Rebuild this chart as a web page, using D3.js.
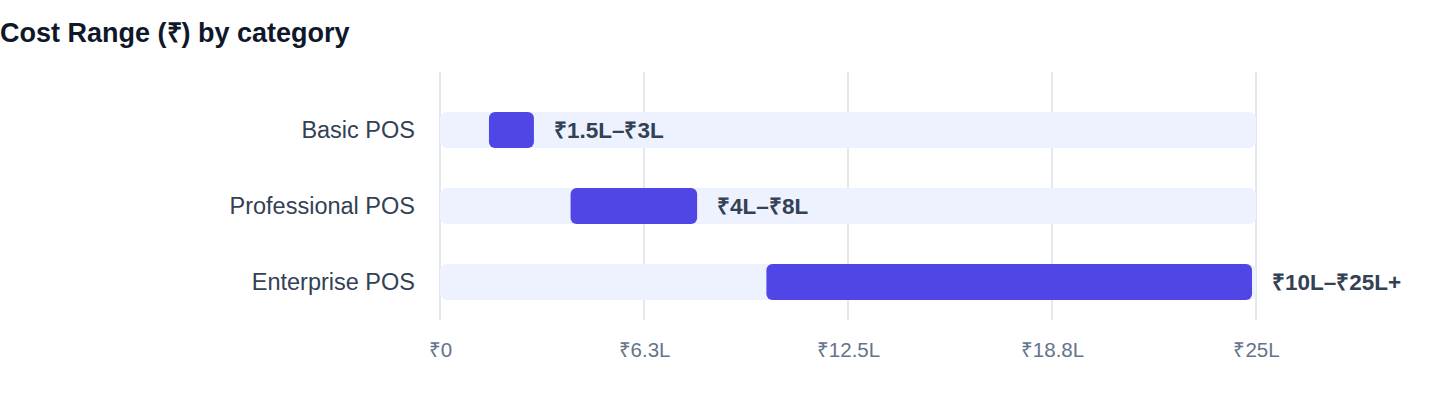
<!DOCTYPE html>
<html lang="en">
  <head>
    <meta charset="utf-8">
    <title>Cost Range by category</title>
    <style>
      body { margin: 0; background: #fff; }
      svg { display: block; font-family: "Helvetica Neue", Helvetica, Arial, "Liberation Sans", sans-serif; }
    </style>
  </head>
  <body>

<script src="https://cdn.jsdelivr.net/npm/d3@7"></script>

<script>
// chart data
var categories = ["Basic POS", "Professional POS", "Enterprise POS"];
var lowValues = [1.5, 4, 10];
var highValues = [3, 8, 25];
var rangeLabels = ["₹1.5L–₹3L", "₹4L–₹8L", "₹10L–₹25L+"];
var tickValues = [0, 6.25, 12.5, 18.75, 25];
var tickLabels = ["₹0", "₹6.3L", "₹12.5L", "₹18.8L", "₹25L"];

var rows = categories.map(function (c, i) {
  return { name: c, low: lowValues[i], high: highValues[i], label: rangeLabels[i] };
});

var width = 1440, height = 408;

var svg = d3.select("body").append("svg")
  .attr("width", width)
  .attr("height", height);

// title
svg.append("text")
  .attr("x", 0)
  .attr("y", 42)
  .attr("font-size", 27)
  .attr("font-weight", 700)
  .attr("fill", "#0f172a")
  .text("Cost Range (₹) by category");

var x = d3.scaleLinear()
  .domain([0, 25])
  .range([440, 1256]);

var y = d3.scaleBand()
  .domain(categories)
  .range([92, 320])
  .paddingInner(40 / 76)
  .paddingOuter(20 / 76);

var gridTop = 72, gridBottom = 320;

// vertical grid lines
svg.append("g")
  .selectAll("line")
  .data(tickValues)
  .enter()
  .append("line")
    .attr("x1", function (d) { return x(d); })
    .attr("x2", function (d) { return x(d); })
    .attr("y1", gridTop)
    .attr("y2", gridBottom)
    .attr("stroke", "#e2e8f0")
    .attr("stroke-width", 2);

// x axis labels
var xAxis = d3.axisBottom(x)
  .tickValues(tickValues)
  .tickFormat(function (d, i) { return tickLabels[i]; })
  .tickSize(0)
  .tickPadding(0);

var ax = svg.append("g")
  .attr("transform", "translate(0," + 342 + ")")
  .call(xAxis);
ax.select(".domain").remove();
ax.selectAll("text")
  .attr("font-size", 20.5)
  .attr("font-family", null)
  .attr("fill", "#64748b");

// y axis labels
var yAxis = d3.axisLeft(y).tickSize(0).tickPadding(0);
var ay = svg.append("g")
  .attr("transform", "translate(415,0)")
  .call(yAxis);
ay.select(".domain").remove();
ay.selectAll("text")
  .attr("font-size", 23.5)
  .attr("font-family", null)
  .attr("fill", "#334155");

// background tracks
svg.append("g")
  .selectAll("rect")
  .data(rows)
  .enter()
  .append("rect")
    .attr("x", x(0))
    .attr("y", function (d) { return y(d.name); })
    .attr("width", x(25) - x(0))
    .attr("height", y.bandwidth())
    .attr("rx", 7)
    .attr("fill", "#eef2ff");

// range bars
var gap = 4;
svg.append("g")
  .selectAll("rect")
  .data(rows)
  .enter()
  .append("rect")
    .attr("x", function (d) { return x(d.low); })
    .attr("y", function (d) { return y(d.name); })
    .attr("width", function (d) { return x(d.high) - x(d.low) - gap; })
    .attr("height", y.bandwidth())
    .attr("rx", 6)
    .attr("fill", "#4f46e5");

// range labels
svg.append("g")
  .selectAll("text")
  .data(rows)
  .enter()
  .append("text")
    .attr("x", function (d) { return x(d.high) - gap + 20; })
    .attr("y", function (d) { return y(d.name) + y.bandwidth() / 2; })
    .attr("dy", "0.35em")
    .attr("font-size", 22.5)
    .attr("font-weight", 700)
    .attr("fill", "#334155")
    .text(function (d) { return d.label; });
</script>

  </body>
</html>
